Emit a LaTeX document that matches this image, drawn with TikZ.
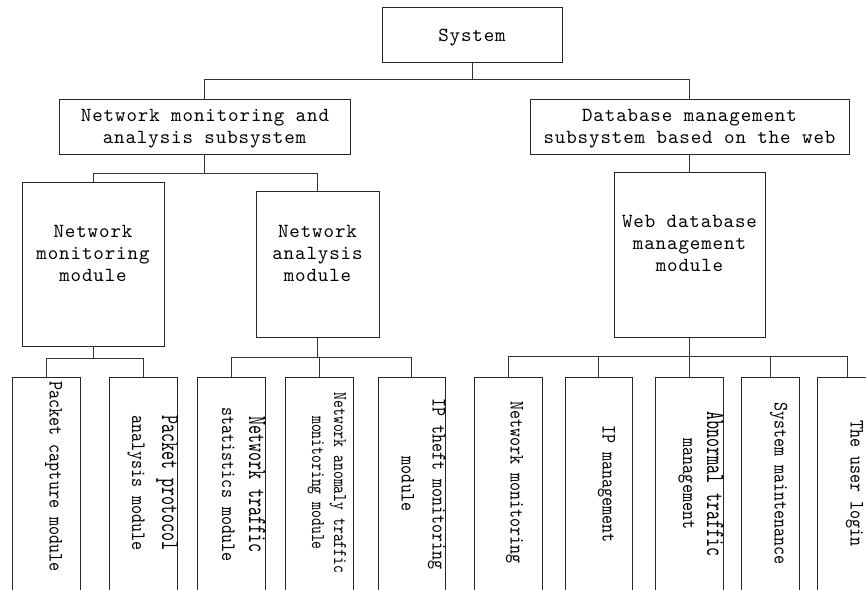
\documentclass[tikz,border=0pt]{standalone}
\usepackage{fontspec}
\newfontfamily\boxfont{lmmono10-regular.otf}[LetterSpace=4.5]
\newfontfamily\leaffont{lmmono10-regular.otf}
\newcommand{\leafln}[1]{\scalebox{0.84}[1]{#1}}
\newcommand{\leafbig}[1]{\scalebox{0.84}[1.28]{#1}}
\newcommand{\leafsmall}[1]{\scalebox{0.73}[0.95]{#1}}
\tikzset{
  conn/.style={draw=black!80, line width=1pt},
  box/.style={draw=black!85, line width=1pt, rectangle, inner sep=0pt},
  leafbox/.style={box, anchor=north, minimum height=240pt},
  boxtext/.style={font={\boxfont\fontsize{20}{24}\selectfont}, anchor=base, inner sep=0pt},
  leaftext/.style={font={\leaffont\fontsize{20.5}{24}\selectfont}, anchor=base, inner sep=0pt, rotate=-90},
}
\begin{document}
\begin{tikzpicture}[x=1pt,y=-1pt]
\useasboundingbox (0,0) rectangle (866,589);
\clip (0,0) rectangle (866,589);
% boxes
\node[box, minimum width=180pt, minimum height=55pt] (sys) at (472,34.5) {};
\node[box, minimum width=291pt, minimum height=55pt] (sub1) at (204.5,126.5) {};
\node[box, minimum width=319pt, minimum height=55pt] (sub2) at (689.5,126.5) {};
\node[box, minimum width=142pt, minimum height=164pt] (nmm) at (93,264) {};
\node[box, minimum width=123pt, minimum height=146pt] (nam) at (317.5,264) {};
\node[box, minimum width=151pt, minimum height=165pt] (wdm) at (689.5,254.5) {};
% leaf boxes
\node[leafbox, minimum width=68pt] (leaf1) at (46,377) {};
\node[leafbox, minimum width=68pt] (leaf2) at (143,377) {};
\node[leafbox, minimum width=68pt] (leaf3) at (231,377) {};
\node[leafbox, minimum width=68pt] (leaf4) at (319,377) {};
\node[leafbox, minimum width=67pt] (leaf5) at (411.5,377) {};
\node[leafbox, minimum width=68pt] (leaf6) at (508,377) {};
\node[leafbox, minimum width=67pt] (leaf7) at (598.5,377) {};
\node[leafbox, minimum width=68pt] (leaf8) at (689,377) {};
\node[leafbox, minimum width=58pt] (leaf9) at (770,377) {};
\node[leafbox, minimum width=60pt] (leaf10) at (847,377) {};
% bus levels
\coordinate (b0) at (0,79);
\coordinate (b1) at (0,173);
\coordinate (b2) at (0,358);
\coordinate (b3) at (0,357);
\coordinate (b4) at (0,356);
% connectors
\draw[conn] (sys.south) -- (sys.south |- b0) -| (sub1.north);
\draw[conn] (sys.south |- b0) -| (sub2.north);
\draw[conn] (sub1.south) -- (sub1.south |- b1) -| (nmm.north);
\draw[conn] (sub1.south |- b1) -| (nam.north);
\draw[conn] (sub2.south) -- (wdm.north);
\draw[conn] (nmm.south) -- (nmm.south |- b2) -| (leaf1.north);
\draw[conn] (nmm.south |- b2) -| (leaf2.north);
\draw[conn] (nam.south) -- (nam.south |- b3) -| (leaf3.north);
\draw[conn] (nam.south |- b3) -| (leaf4.north);
\draw[conn] (nam.south |- b3) -| (leaf5.north);
\draw[conn] (wdm.south) -- (wdm.south |- b4) -| (leaf6.north);
\draw[conn] (wdm.south |- b4) -| (leaf7.north);
\draw[conn] (wdm.south |- b4) -| (leaf8.north);
\draw[conn] (wdm.south |- b4) -| (leaf9.north);
\draw[conn] (wdm.south |- b4) -| (leaf10.north);
% upper texts
\node[boxtext] (tsys) at (472,41.5) {System};
\node[boxtext] (tsub1a) at (205,121) {Network monitoring and};
\node[boxtext] (tsub1b) at (204.5,143) {analysis subsystem};
\node[boxtext] (tsub2a) at (689.5,121) {Database management};
\node[boxtext] (tsub2b) at (689.5,143) {subsystem based on the web};
\node[boxtext] (tnmma) at (93,237) {Network};
\node[boxtext] (tnmmb) at (93,259) {monitoring};
\node[boxtext] (tnmmc) at (93,281) {module};
\node[boxtext] (tnama) at (317.5,237) {Network};
\node[boxtext] (tnamb) at (317.5,259) {analysis};
\node[boxtext] (tnamc) at (317.5,281) {module};
\node[boxtext] (twdma) at (689.5,227) {Web database};
\node[boxtext] (twdmb) at (689.5,249) {management};
\node[boxtext] (twdmc) at (689.5,271) {module};
% leaf texts
\node[leaftext] (tl1) at (49.5,476.5) {\leafln{Packet capture module}};
\node[leaftext] (tl2a) at (162,483) {\leafbig{Packet protocol}};
\node[leaftext] (tl2b) at (132,483) {\leafln{analysis module}};
\node[leaftext] (tl3a) at (249,484.5) {\leafbig{Network traffic}};
\node[leaftext] (tl3b) at (222,484.5) {\leafln{statistics module}};
\node[leaftext] (tl4a) at (334,483) {\leafsmall{Network anomaly traffic}};
\node[leaftext] (tl4b) at (312,483) {\leafsmall{monitoring module}};
\node[leaftext] (tl5a) at (432.5,484) {\leafln{IP theft monitoring}};
\node[leaftext] (tl5b) at (401.5,484) {\leafln{module}};
\node[leaftext] (tl6) at (510.5,482.5) {\leafln{Network monitoring}};
\node[leaftext] (tl7) at (602.5,484) {\leafln{IP management}};
\node[leaftext] (tl8a) at (707,484) {\leafbig{Abnormal traffic}};
\node[leaftext] (tl8b) at (683,484) {\leafln{management}};
\node[leaftext] (tl9) at (774.5,483.5) {\leafln{System maintenance}};
\node[leaftext] (tl10) at (850.5,483.5) {\leafln{The user login}};
\end{tikzpicture}
\end{document}
